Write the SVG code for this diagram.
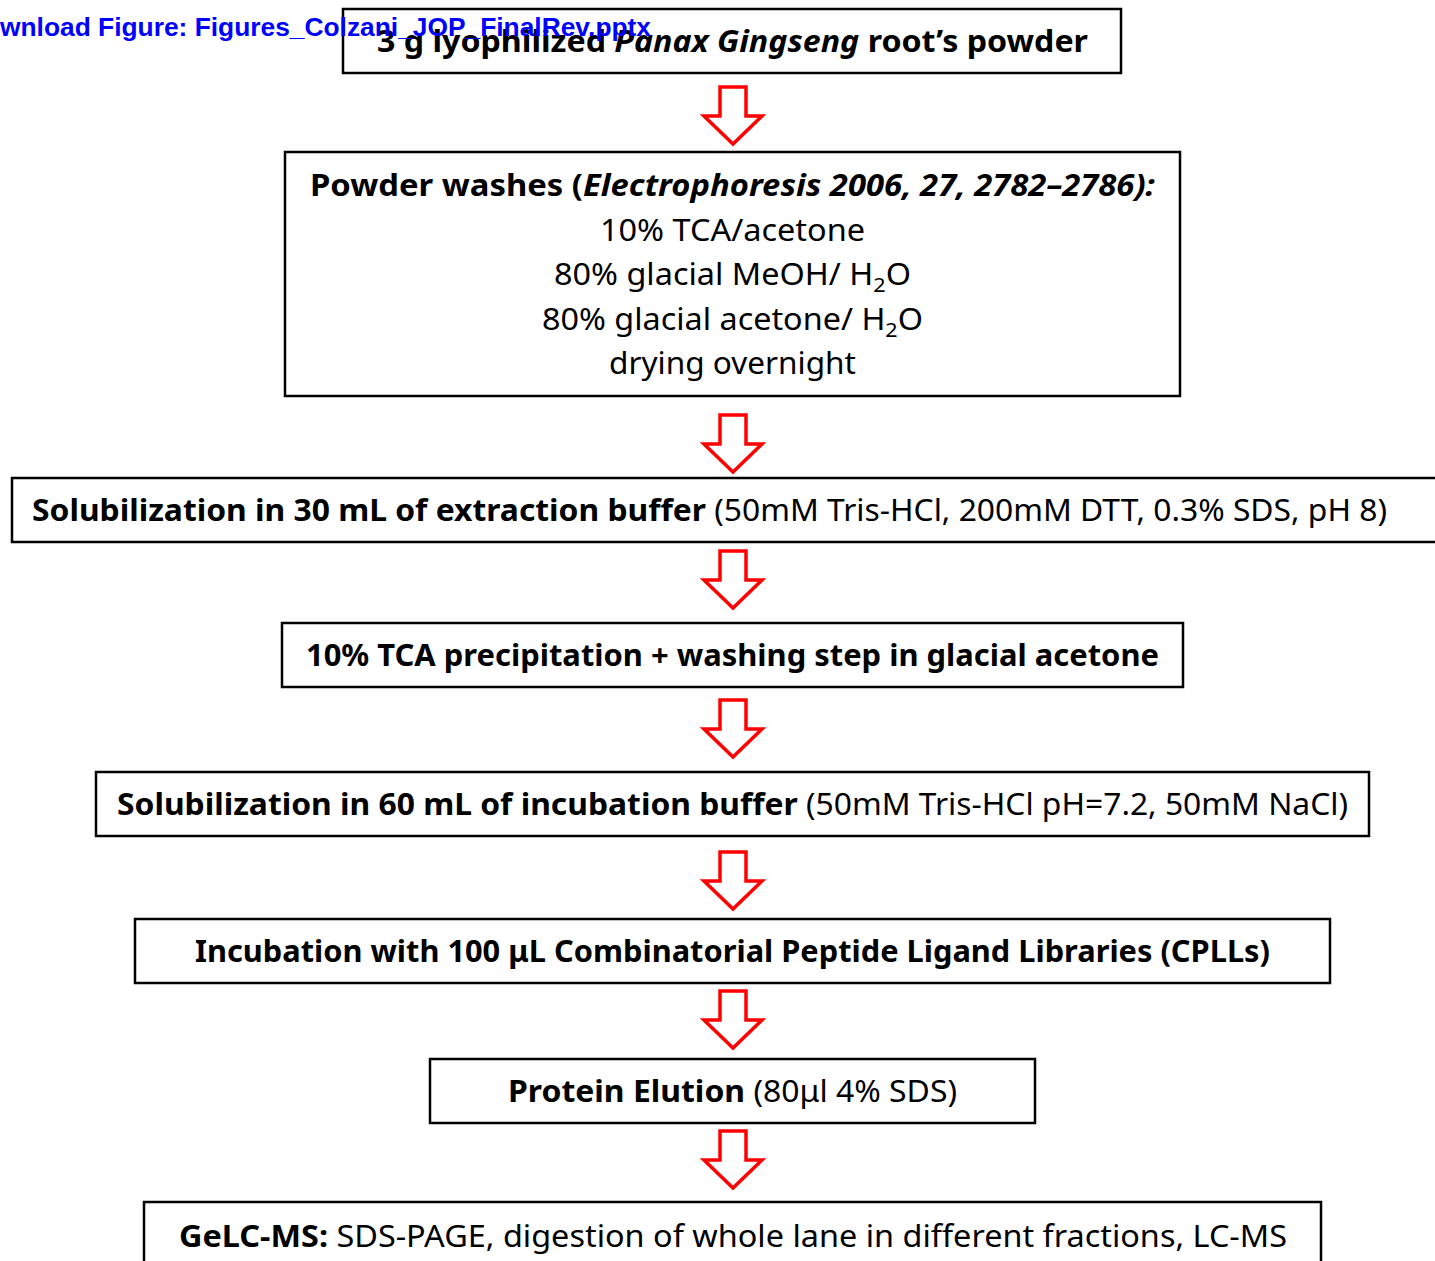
<svg xmlns="http://www.w3.org/2000/svg" width="1435" height="1261" viewBox="0 0 1435 1261">
<style>
.box{fill:#fff;stroke:#000;stroke-width:2.5}
.t{font-family:"Noto Sans","Open Sans",sans-serif;font-size:30px;fill:#000}
.b{font-weight:bold}
.i{font-style:italic}
.sub{font-size:20px}
.hdr{font-family:"Liberation Sans",Arial,sans-serif;font-size:25px;font-weight:bold;fill:#0000ff}
.arr{fill:#fff;stroke:#ff0000;stroke-width:3.5;stroke-linejoin:miter}
</style>
<defs>
<path id="arrow" class="arr" d="M720,0 H746 V29 H762 L733,57 L704,29 H720 Z"/>
</defs>
<rect width="1435" height="1261" fill="#fff"/>
<g id="connectors">
<use href="#arrow" y="87"/>
<use href="#arrow" y="415"/>
<use href="#arrow" y="551"/>
<use href="#arrow" y="700"/>
<use href="#arrow" y="852"/>
<use href="#arrow" y="991"/>
<use href="#arrow" y="1131"/>
</g>
<g id="n1">
<rect class="box" x="343" y="9" width="778" height="64"/>
<text class="t b" x="377" y="52" textLength="711" lengthAdjust="spacingAndGlyphs">3 g  lyophilized <tspan class="i">Panax Gingseng</tspan> root’s powder</text>
</g>
<g id="n2">
<rect class="box" x="285" y="152" width="895" height="244"/>
<text class="t" x="310" y="196" textLength="845" lengthAdjust="spacingAndGlyphs"><tspan class="b">Powder washes (</tspan><tspan class="b i">Electrophoresis 2006, 27, 2782–2786):</tspan></text>
<text class="t" x="600" y="241" textLength="265" lengthAdjust="spacingAndGlyphs">10% TCA/acetone</text>
<text class="t" x="554" y="285" textLength="357" lengthAdjust="spacingAndGlyphs">80% glacial MeOH/ H<tspan class="sub" dy="7">2</tspan><tspan dy="-7">O</tspan></text>
<text class="t" x="542" y="330" textLength="381" lengthAdjust="spacingAndGlyphs">80% glacial acetone/ H<tspan class="sub" dy="7">2</tspan><tspan dy="-7">O</tspan></text>
<text class="t" x="609" y="374" textLength="247" lengthAdjust="spacingAndGlyphs">drying overnight</text>
</g>
<g id="n3">
<rect class="box" x="12" y="478" width="1430" height="64"/>
<text class="t" x="32" y="521" textLength="1355" lengthAdjust="spacingAndGlyphs"><tspan class="b">Solubilization in 30 mL of extraction buffer</tspan> (50mM Tris-HCl, 200mM DTT, 0.3% SDS, pH 8)</text>
</g>
<g id="n4">
<rect class="box" x="282" y="623" width="901" height="64"/>
<text class="t b" x="306" y="666" textLength="853" lengthAdjust="spacingAndGlyphs">10% TCA precipitation + washing step in glacial acetone</text>
</g>
<g id="n5">
<rect class="box" x="96" y="772" width="1273" height="64"/>
<text class="t" x="117" y="815" textLength="1231" lengthAdjust="spacingAndGlyphs"><tspan class="b">Solubilization in 60 mL of incubation buffer</tspan> (50mM Tris-HCl pH=7.2, 50mM NaCl)</text>
</g>
<g id="n6">
<rect class="box" x="135" y="919" width="1195" height="64"/>
<text class="t b" x="195" y="962" textLength="1075" lengthAdjust="spacingAndGlyphs">Incubation with 100 μL Combinatorial Peptide Ligand Libraries (CPLLs)</text>
</g>
<g id="n7">
<rect class="box" x="430" y="1059" width="605" height="64"/>
<text class="t" x="508" y="1102" textLength="449" lengthAdjust="spacingAndGlyphs"><tspan class="b">Protein Elution</tspan> (80μl 4% SDS)</text>
</g>
<g id="n8">
<rect class="box" x="144" y="1202" width="1177" height="80"/>
<text class="t" x="179" y="1247" textLength="1108" lengthAdjust="spacingAndGlyphs"><tspan class="b">GeLC-MS:</tspan> SDS-PAGE, digestion of whole lane in different fractions, LC-MS</text>
</g>
<g id="header">
<text class="hdr" x="0" y="36" textLength="651" lengthAdjust="spacingAndGlyphs">wnload Figure: Figures_Colzani_JOP_FinalRev.pptx</text>
</g>
</svg>
